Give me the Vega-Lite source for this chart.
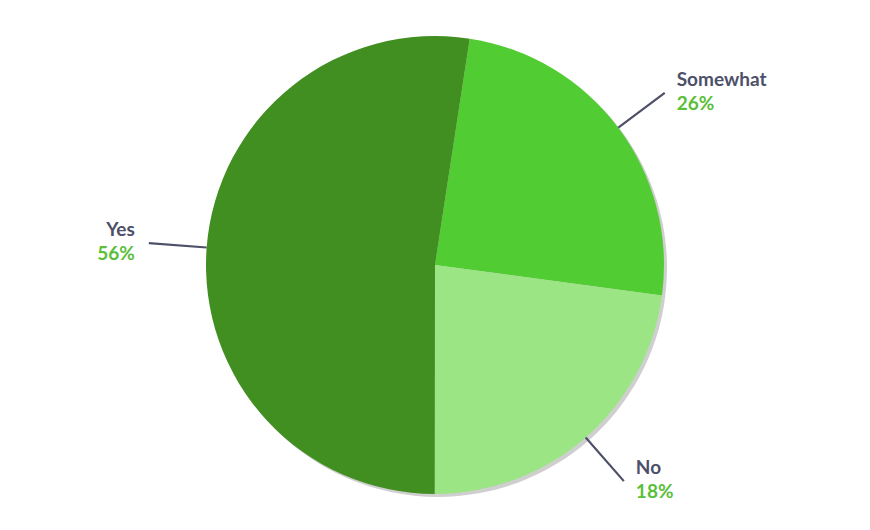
{
  "$schema": "https://vega.github.io/schema/vega-lite/v6.json",
  "width": 870,
  "height": 530,
  "autosize": {"type": "fit", "contains": "padding"},
  "padding": 0,
  "background": "#ffffff",
  "config": {"view": {"stroke": null}},
  "data": {
    "values": [
      {"answer": "Somewhat", "order": 1, "share": 24.7, "pct": "26%"},
      {"answer": "No", "order": 2, "share": 22.9, "pct": "18%"},
      {"answer": "Yes", "order": 3, "share": 52.4, "pct": "56%"}
    ]
  },
  "transform": [
    {"stack": "share", "groupby": [], "sort": [{"field": "order"}], "as": ["s0", "s1"]},
    {"calculate": "(datum.s0 + datum.s1) / 2", "as": "mid"}
  ],
  "layer": [
    {
      "mark": {"type": "arc", "radius": 229, "color": "#cfcfcf", "xOffset": 3, "yOffset": 3, "strokeWidth": 0},
      "encoding": {
        "theta": {"field": "s0", "type": "quantitative", "stack": null, "scale": {"domain": [0, 100], "range": [0.152, 6.4352]}},
        "theta2": {"field": "s1"}
      }
    },
    {
      "mark": {"type": "arc", "radius": 229, "strokeWidth": 0},
      "encoding": {
        "theta": {"field": "s0", "type": "quantitative", "stack": null, "scale": {"domain": [0, 100], "range": [0.152, 6.4352]}},
        "theta2": {"field": "s1"},
        "color": {
          "field": "answer", "type": "nominal", "legend": null,
          "scale": {"domain": ["Yes", "Somewhat", "No"], "range": ["#428f21", "#52cc33", "#9be584"]}
        }
      }
    },
    {
      "mark": {"type": "arc", "radius": 287, "radius2": 229, "fill": null, "stroke": "#4d5068", "strokeWidth": 2.2},
      "encoding": {
        "theta": {"field": "mid", "type": "quantitative", "stack": null, "scale": {"domain": [0, 100], "range": [0.152, 6.4352]}},
        "theta2": {"field": "mid"}
      }
    },
    {
      "mark": {
        "type": "text", "radius": 287, "font": "Lato", "fontSize": 19, "fontWeight": "bold",
        "color": "#4d5068", "baseline": "middle", "dy": -13,
        "align": {"expr": "datum.mid < 47.6 ? 'left' : 'right'"},
        "dx": {"expr": "datum.mid < 47.6 ? 12 : -14"}
      },
      "encoding": {
        "theta": {"field": "mid", "type": "quantitative", "stack": null, "scale": {"domain": [0, 100], "range": [0.152, 6.4352]}},
        "text": {"field": "answer"}
      }
    },
    {
      "mark": {
        "type": "text", "radius": 287, "font": "Lato", "fontSize": 19, "fontWeight": "bold",
        "color": "#5bbf3a", "baseline": "middle", "dy": 11,
        "align": {"expr": "datum.mid < 47.6 ? 'left' : 'right'"},
        "dx": {"expr": "datum.mid < 47.6 ? 12 : -14"}
      },
      "encoding": {
        "theta": {"field": "mid", "type": "quantitative", "stack": null, "scale": {"domain": [0, 100], "range": [0.152, 6.4352]}},
        "text": {"field": "pct"}
      }
    }
  ]
}
